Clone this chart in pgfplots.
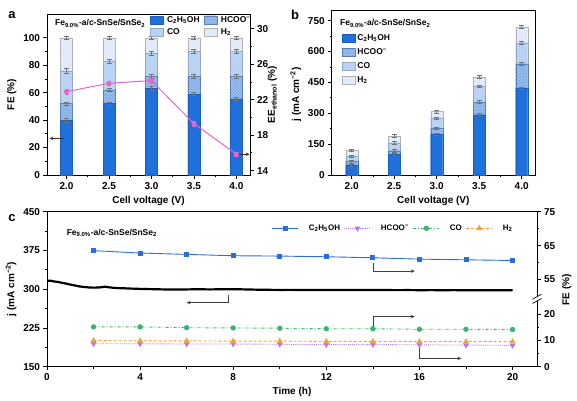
\documentclass[border=0pt]{standalone}
\usepackage{pgfplots}
\pgfplotsset{compat=1.18}
\usepackage{fontspec}
\setmainfont{Liberation Sans}
\usetikzlibrary{patterns,arrows.meta}

\definecolor{cEt}{RGB}{32,112,220}
\definecolor{cHC}{RGB}{112,160,226}
\definecolor{cCO}{RGB}{186,210,243}
\definecolor{cH2}{RGB}{226,235,249}
\definecolor{cEE}{RGB}{232,100,200}
\definecolor{lEt}{RGB}{43,111,214}
\definecolor{lHC}{RGB}{176,127,224}
\definecolor{lCO}{RGB}{59,181,110}
\definecolor{lH2}{RGB}{245,160,52}

\pgfplotsset{
  base/.style={
    scale only axis,
    tick align=outside,
    axis line style={line width=0.8pt},
    every tick/.style={line width=0.7pt, black},
    major tick length=3.5pt, minor tick length=2pt,
    tick label style={font=\fontsize{10}{12}\selectfont\bfseries},
    label style={font=\fontsize{10}{12}\selectfont\bfseries},
    /pgf/number format/assume math mode=true,
  },
  barleg/.style={legend image code/.code={\draw[##1] (0pt,-4pt) rectangle (13pt,4pt);}},
  ebars/.style={
    error bars/error bar style={line width=0.4pt, black!55},
    error bars/error mark options={rotate=90, mark size=2.5pt, line width=0.4pt, black!55},
  },
}

\begin{document}
\begin{tikzpicture}
\path (0pt,0pt) rectangle (577pt,399pt);

% ---------------- panel a ----------------
\begin{axis}[base, ebars, at={(47pt,224pt)}, anchor=south west, width=203pt, height=161pt,
  xmin=1.77, xmax=4.16, ymin=0, ymax=117.3,
  xtick={2,2.5,3,3.5,4}, minor x tick num=1,
  ytick={0,20,40,60,80,100}, minor y tick num=1,
  xtick pos=left, ytick pos=left,
  xticklabel style={/pgf/number format/.cd, fixed, fixed zerofill, precision=1},
  xlabel={Cell voltage (V)}, ylabel={FE (\%)},
  ybar, bar width=12pt, clip=false,
  legend columns=2, reverse legend, legend cell align=left,
  legend style={at={(rel axis cs:0.505,1.0)}, anchor=north west, draw=none, fill=none,
    font=\fontsize{8.5}{10}\selectfont\bfseries, inner sep=0pt, column sep=2pt, row sep=1pt},
]
\addplot[bar shift=0pt, fill=cH2, draw=black!30, line width=0.3pt, barleg,
  error bars/.cd, y dir=both, y fixed=1.2]
  coordinates {(2,100)(2.5,100)(3,100)(3.5,100)(4,100)};
\addlegendentry{H\textsubscript{2}}
\addplot[bar shift=0pt, fill=cCO, draw=cCO!80!black, line width=0.3pt, barleg,
  error bars/.cd, y dir=both, y fixed=1.5]
  coordinates {(2,76)(2.5,83)(3,88.5)(3.5,90)(4,90.3)};
\addlegendentry{CO}
\addplot[bar shift=0pt, fill=cHC, draw=cHC!80!black, line width=0.3pt,
  postaction={pattern=crosshatch, pattern color=cHC!55!white}, barleg,
  error bars/.cd, y dir=both, y fixed=1.3]
  coordinates {(2,52)(2.5,62)(3,72)(3.5,72)(4,72)};
\addlegendentry{HCOO\textsuperscript{−}}
\addplot[bar shift=0pt, fill=cEt, draw=cEt!85!black, line width=0.3pt, barleg,
  error bars/.cd, y dir=both, y fixed=1.2]
  coordinates {(2,40)(2.5,52)(3,63.3)(3.5,59)(4,55.5)};
\addlegendentry{C\textsubscript{2}H\textsubscript{5}OH}
\draw[-{Stealth[length=4pt,width=3.5pt]}, line width=0.7pt, black!80] (axis cs:1.97,26.7) -- (axis cs:1.80,26.7);
\node[anchor=west, font=\fontsize{8.5}{10}\selectfont\bfseries, inner sep=0pt] at (rel axis cs:0.039,0.942) {Fe\textsubscript{9.0\%}-a/c-SnSe/SnSe\textsubscript{2}};
\end{axis}

\begin{axis}[base, at={(47pt,224pt)}, anchor=south west, width=203pt, height=161pt,
  xmin=1.77, xmax=4.16, ymin=13.5, ymax=31.66,
  axis x line=none, axis y line*=right,
  ytick={14,18,22,26,30}, minor y tick num=1,
  ylabel={EE\textsubscript{ethanol} (\%)},
  every axis y label/.style={at={(rel axis cs:1.11,0.5)}, anchor=center, rotate=90,
    font=\fontsize{10}{12}\selectfont\bfseries},
  clip=false,
]
\addplot[cEE, line width=1pt, mark=*, mark size=2pt, mark options={fill=cEE},
  error bars/.cd, y dir=both, y fixed=0.25, error bar style={cEE, line width=0.4pt},
  error mark options={rotate=90, mark size=2pt, cEE}]
  coordinates {(2,22.9)(2.5,23.85)(3,24.15)(3.5,19.3)(4,15.84)};
\draw[-{Stealth[length=4pt,width=3.5pt]}, line width=0.7pt, black!80] (axis cs:4.03,15.84) -- (axis cs:4.155,15.84);
\end{axis}

% ---------------- panel b ----------------
\begin{axis}[base, ebars, at={(331.7pt,224pt)}, anchor=south west, width=203.3pt, height=165pt,
  xmin=1.765, xmax=4.157, ymin=0, ymax=802,
  xtick={2,2.5,3,3.5,4}, minor x tick num=1,
  ytick={0,150,300,450,600,750}, minor y tick num=1,
  xtick pos=left, ytick pos=left,
  xticklabel style={/pgf/number format/.cd, fixed, fixed zerofill, precision=1},
  xlabel={Cell voltage (V)}, ylabel={j (mA cm\textsuperscript{−2})},
  ylabel style={xshift=-2pt},
  ybar, bar width=12pt,
  reverse legend, legend cell align=left,
  legend style={at={(rel axis cs:0.05,0.865)}, anchor=north west, draw=none, fill=none,
    font=\fontsize{8.5}{10}\selectfont\bfseries, inner sep=0pt, row sep=2.5pt},
]
\addplot[bar shift=0pt, fill=cH2, draw=black!30, line width=0.3pt, barleg,
  error bars/.cd, y dir=both, y fixed=6]
  coordinates {(2,120)(2.5,190)(3,308)(3.5,478)(4,721)};
\addlegendentry{H\textsubscript{2}}
\addplot[bar shift=0pt, fill=cCO, draw=cCO!80!black, line width=0.3pt, barleg,
  error bars/.cd, y dir=both, y fixed=6]
  coordinates {(2,92)(2.5,157)(3,277)(3.5,432)(4,643)};
\addlegendentry{CO}
\addplot[bar shift=0pt, fill=cHC, draw=cHC!80!black, line width=0.3pt,
  postaction={pattern=crosshatch, pattern color=cHC!55!white}, barleg,
  error bars/.cd, y dir=both, y fixed=6]
  coordinates {(2,65)(2.5,118)(3,228)(3.5,356)(4,541)};
\addlegendentry{HCOO\textsuperscript{−}}
\addplot[bar shift=0pt, fill=cEt, draw=cEt!85!black, line width=0.3pt, barleg,
  error bars/.cd, y dir=both, y fixed=6]
  coordinates {(2,48.6)(2.5,100)(3,198)(3.5,293)(4,423)};
\addlegendentry{C\textsubscript{2}H\textsubscript{5}OH}
\node[anchor=west, font=\fontsize{8.5}{10}\selectfont\bfseries, inner sep=0pt] at (rel axis cs:0.041,0.919) {Fe\textsubscript{9.0\%}-a/c-SnSe/SnSe\textsubscript{2}};
\end{axis}

% ---------------- panel c ----------------
\begin{axis}[base, at={(47pt,32.3pt)}, anchor=south west, width=490pt, height=155pt,
  xmin=0, xmax=21.05, ymin=150, ymax=450,
  xtick={0,4,8,12,16,20}, minor x tick num=1,
  ytick={150,225,300,375,450}, minor y tick num=1,
  xtick pos=left, ytick pos=left,
  xlabel={Time (h)}, ylabel={j (mA cm\textsuperscript{−2})}, clip=false,
]
\addplot[black, line width=2.2pt] coordinates {
 (0,316)(0.15,316.5)(0.3,315)(0.45,314.2)(0.6,312.8)(0.8,311)(1.0,309)(1.2,307.2)(1.4,305.3)
 (1.6,304.2)(1.8,303.4)(2.0,303)(2.2,303.2)(2.4,304.2)(2.5,305)(2.6,304)(2.8,303)(3.0,302.2)
 (3.3,301.8)(3.6,301.2)(4.0,300.6)(4.5,300.1)(5.0,299.6)(5.5,299.4)(6.0,299.6)(6.5,299.9)
 (7.0,299.6)(7.5,299.9)(8.0,300.1)(8.5,299.6)(9.0,299.1)(9.5,298.8)(10,298.6)(10.5,298.7)
 (11,298.5)(11.5,298.6)(12,298.4)(12.5,298.5)(13,298.3)(13.5,298.4)(14,298.3)(14.5,298.4)
 (15,298.2)(15.5,298.3)(16,298.1)(16.5,298.2)(17,298.1)(17.5,298.2)(18,298.0)(18.5,298.1)
 (19,298.0)(19.5,298.1)(20,298.0)};
\draw[-{Stealth[length=4pt,width=3.5pt]}, line width=0.7pt, black!75] (axis cs:7.8,289) -- (axis cs:7.8,274) -- (axis cs:6.0,274);
\draw[-{Stealth[length=4pt,width=3.5pt]}, line width=0.7pt, black!75] (axis cs:14,350) -- (axis cs:14,335) -- (axis cs:15.8,335);
\draw[-{Stealth[length=4pt,width=3.5pt]}, line width=0.7pt, black!75] (axis cs:14,225) -- (axis cs:14,247) -- (axis cs:15.8,247);
\draw[-{Stealth[length=4pt,width=3.5pt]}, line width=0.7pt, black!75] (axis cs:16,189) -- (axis cs:16,166) -- (axis cs:17.8,166);
\node[anchor=west, font=\fontsize{8.5}{10}\selectfont\bfseries, inner sep=0pt] at (rel axis cs:0.040,0.861) {Fe\textsubscript{9.0\%}-a/c-SnSe/SnSe\textsubscript{2}};
\end{axis}

\begin{axis}[base, at={(47pt,102.6pt)}, anchor=south west, width=490pt, height=84.7pt,
  xmin=0, xmax=21.05, ymin=50, ymax=75,
  axis x line=none, axis y line*=right,
  ytick={55,65,75}, minor ytick={60,70},
  ylabel={FE (\%)}, ylabel style={at={(ticklabel cs:0.076)}},
  legend columns=-1,
  legend image code/.code={\draw[mark repeat=2,mark phase=2,#1] plot coordinates {(0pt,0pt)(13pt,0pt)(26pt,0pt)};},
  legend style={at={(rel axis cs:0.4586,0.804)}, anchor=west, draw=none, fill=none,
    font=\fontsize{8}{10}\selectfont\bfseries, inner sep=0pt, column sep=2pt,
    /tikz/every even column/.append style={column sep=2pt},
    /tikz/every odd column/.append style={column sep=8pt}},
]
\addplot[lEt, line width=0.9pt, mark=square*, mark size=2pt]
  coordinates {(2,63.5)(4,62.8)(6,62.4)(8,62.0)(10,61.9)(12,61.7)(14,61.4)(16,61.0)(18,60.8)(20,60.6)};
\addlegendentry{C\textsubscript{2}H\textsubscript{5}OH}
\addlegendimage{lHC, densely dotted, line width=0.9pt, mark=triangle*, mark size=2.6pt, mark options={rotate=180, solid}}
\addlegendentry{HCOO\textsuperscript{−}}
\addlegendimage{lCO, dash pattern=on 3pt off 2pt on 1pt off 2pt, line width=0.9pt, mark=*, mark size=2.2pt, mark options={solid}}
\addlegendentry{CO}
\addlegendimage{lH2, dash pattern=on 3pt off 2pt, line width=0.9pt, mark=triangle*, mark size=2.6pt, mark options={solid}}
\addlegendentry{H\textsubscript{2}}
\end{axis}

\begin{axis}[base, at={(47pt,32.3pt)}, anchor=south west, width=490pt, height=65.9pt,
  xmin=0, xmax=21.05, ymin=0, ymax=25,
  axis x line=none, axis y line*=right,
  ytick={0,10,20}, minor ytick={5,15},
]
\addplot[lHC, densely dotted, line width=0.9pt, mark=triangle*, mark size=2.6pt, mark options={rotate=180, solid}]
  coordinates {(2,8.7)(4,8.7)(6,8.6)(8,8.6)(10,8.5)(12,8.4)(14,8.4)(16,8.3)(18,8.2)(20,8.1)};
\addplot[lCO, dash pattern=on 3pt off 2pt on 1pt off 2pt, line width=0.9pt, mark=*, mark size=2.2pt, mark options={solid}]
  coordinates {(2,15.1)(4,15.1)(6,14.8)(8,14.7)(10,14.6)(12,14.4)(14,14.4)(16,14.2)(18,14.2)(20,14.1)};
\addplot[lH2, dash pattern=on 3pt off 2pt, line width=0.9pt, mark=triangle*, mark size=2.6pt, mark options={solid}]
  coordinates {(2,9.9)(4,9.8)(6,9.8)(8,9.7)(10,9.7)(12,9.6)(14,9.6)(16,9.5)(18,9.5)(20,9.5)};
\end{axis}

% axis break on right FE axis
\fill[white] (534pt,97.6pt) rectangle (540pt,103.2pt);
\draw[line width=0.7pt] (532.5pt,95.5pt) -- (541.5pt,100.5pt);
\draw[line width=0.7pt] (532.5pt,99.8pt) -- (541.5pt,104.8pt);

% panel labels
\node[font=\fontsize{13}{15}\selectfont\bfseries] at (12pt,384pt) {a};
\node[font=\fontsize{13}{15}\selectfont\bfseries] at (295pt,384pt) {b};
\node[font=\fontsize{13}{15}\selectfont\bfseries] at (12pt,181pt) {c};
\end{tikzpicture}
\end{document}
